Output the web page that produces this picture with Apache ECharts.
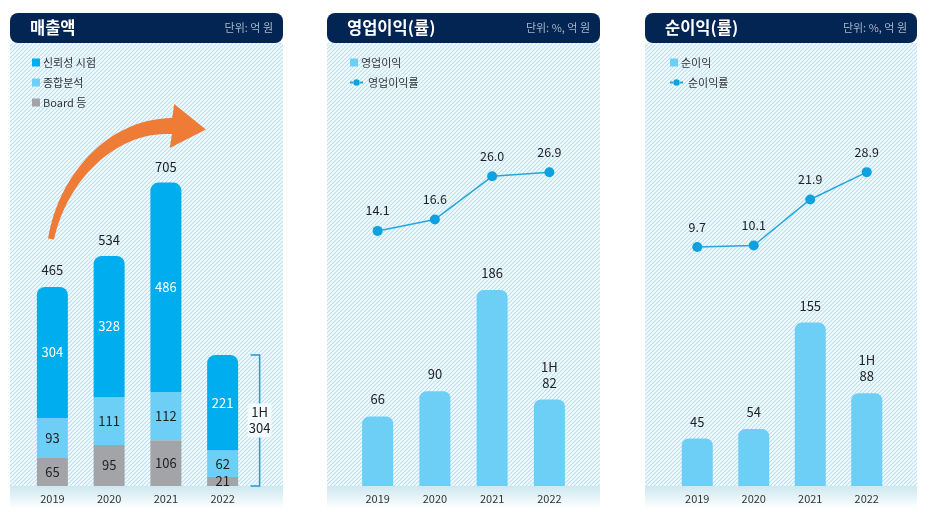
<!DOCTYPE html>
<html><head><meta charset="utf-8">
<script src="https://cdn.jsdelivr.net/npm/echarts@6/dist/echarts.min.js"></script>
<style>html,body{margin:0;padding:0;background:#fff}#c{width:934px;height:521px}</style>
</head><body><div id="c"></div>
<script>
// ---- data ----
const categories = ['2019', '2020', '2021', '2022'];
const salesReliability = [304, 328, 486, 221];
const salesAnalysis = [93, 111, 112, 62];
const salesBoard = [65, 95, 106, 21];
const salesTotal = [465, 534, 705, 304];
const periodTag = ['', '', '', '1H'];
const opProfit = [66, 90, 186, 82];
const opMargin = [14.1, 16.6, 26.0, 26.9];
const netProfit = [45, 54, 155, 88];
const netMargin = [9.7, 10.1, 21.9, 28.9];

const FONT = '"Noto Sans CJK KR", "Noto Sans", sans-serif';
const C_BLUE = '#00aeef', C_LIGHT = '#6dcff6', C_GRAY = '#a3a4a7';
const C_LINE = '#27a6dc', C_DOT = '#0ea1df';

function makeHatch() {
  const s = 4;
  const c = document.createElement('canvas'); c.width = s; c.height = s;
  const g = c.getContext('2d');
  g.fillStyle = '#f4fbfe'; g.fillRect(0, 0, s, s);
  g.strokeStyle = '#b9dff0'; g.lineWidth = 1.1;
  for (const k of [-s, 0, s]) { g.beginPath(); g.moveTo(k, s); g.lineTo(k + s, 0); g.stroke(); }
  return c;
}
const hatch = { image: makeHatch(), repeat: 'repeat' };

const panels = [
  { x: 10, w: 273, title: '매출액', unit: '단위: 억 원' },
  { x: 327, w: 273, title: '영업이익(률)', unit: '단위: %, 억 원' },
  { x: 645, w: 272, title: '순이익(률)', unit: '단위: %, 억 원' }
];

const gEls = [];
panels.forEach(p => {
  gEls.push({ type: 'rect', z: -1, silent: true, shape: { x: p.x, y: 43, width: p.w, height: 443 }, style: { fill: hatch } });
  gEls.push({ type: 'rect', z: -1, silent: true, shape: { x: p.x, y: 486, width: p.w, height: 23 },
    style: { fill: new echarts.graphic.LinearGradient(0, 0, 0, 1, [{ offset: 0, color: '#cde8ef' }, { offset: 1, color: '#ffffff' }]) } });
  gEls.push({ type: 'rect', z: 0, silent: true, shape: { x: p.x, y: 13, width: p.w, height: 30, r: 8 }, style: { fill: '#022553' } });
  gEls.push({ type: 'text', z: 1, silent: true, x: p.x + 20, y: 28, style: { text: p.title, fill: '#fff', font: 'bold 16.5px ' + FONT, verticalAlign: 'middle', align: 'left' } });
  gEls.push({ type: 'text', z: 1, silent: true, x: p.x + p.w - 10, y: 28, style: { text: p.unit, fill: '#a9b6c9', font: '11px ' + FONT, verticalAlign: 'middle', align: 'right' } });
});

// orange growth arrow (decoration)
(function () {
  const P = [[51, 239], [62, 180], [110, 125], [172, 126]];
  const N = 30, upper = [], lower = [];
  for (let i = 0; i <= N; i++) {
    const t = i / N, u = 1 - t;
    const x = u*u*u*P[0][0] + 3*u*u*t*P[1][0] + 3*u*t*t*P[2][0] + t*t*t*P[3][0];
    const y = u*u*u*P[0][1] + 3*u*u*t*P[1][1] + 3*u*t*t*P[2][1] + t*t*t*P[3][1];
    const dx = 3*u*u*(P[1][0]-P[0][0]) + 6*u*t*(P[2][0]-P[1][0]) + 3*t*t*(P[3][0]-P[2][0]);
    const dy = 3*u*u*(P[1][1]-P[0][1]) + 6*u*t*(P[2][1]-P[1][1]) + 3*t*t*(P[3][1]-P[2][1]);
    const L = Math.hypot(dx, dy), nx = -dy / L, ny = dx / L;
    const w = 3 + 5 * t;
    upper.push([x - nx * w, y - ny * w]); lower.push([x + nx * w, y + ny * w]);
  }
  const d = [0.995, 0.1], n = [-0.1, 0.995], b = P[3];
  const head = [[b[0] - n[0]*22, b[1] - n[1]*22], [b[0] + d[0]*34, b[1] + d[1]*34], [b[0] + n[0]*22, b[1] + n[1]*22]];
  const pts = upper.concat(head, lower.reverse());
  gEls.push({ type: 'polygon', z: 10, silent: true, shape: { points: pts }, style: { fill: '#ee7c36' } });
})();

const xAxisBase = {
  type: 'category', data: categories,
  axisLine: { show: false }, axisTick: { show: false }, splitLine: { show: false },
  axisLabel: { color: '#333', fontSize: 11, fontFamily: FONT, margin: 7 }
};
const yBase = { type: 'value', show: false, splitLine: { show: false } };

const lblDark = { color: '#222', fontSize: 13, fontFamily: FONT };
const tagFmt = p => (periodTag[p.dataIndex] ? periodTag[p.dataIndex] + '\n' : '') + p.value;
const legText = { color: '#333', fontSize: 11, lineHeight: 13, fontFamily: FONT };

const option = {
  animation: false,
  backgroundColor: '#fff',
  textStyle: { fontFamily: FONT },
  graphic: { elements: gEls },
  grid: [
    { left: 24, width: 227, top: 96, bottom: 35 },
    { left: 349, width: 229, top: 96, bottom: 35 },
    { left: 669, width: 226, top: 96, bottom: 35 }
  ],
  xAxis: [
    Object.assign({ gridIndex: 0 }, xAxisBase),
    Object.assign({ gridIndex: 1 }, xAxisBase),
    Object.assign({ gridIndex: 2 }, xAxisBase)
  ],
  yAxis: [
    Object.assign({ gridIndex: 0, min: 0, max: 905 }, yBase),
    Object.assign({ gridIndex: 1, min: 0, max: 370 }, yBase),
    Object.assign({ gridIndex: 1, min: -41.5, max: 43.5 }, yBase),
    Object.assign({ gridIndex: 2, min: 0, max: 370 }, yBase),
    Object.assign({ gridIndex: 2, min: -51.5, max: 48.4 }, yBase)
  ],
  legend: [
    { left: 27, top: 51, orient: 'vertical', itemWidth: 8, itemHeight: 8, itemGap: 7, icon: 'rect',
      textStyle: Object.assign({ padding: [0, 0, 0, -2] }, legText),
      data: ['신뢰성 시험', '종합분석', 'Board 등'] },
    { left: 345, top: 51, itemWidth: 8, itemHeight: 8, icon: 'rect',
      textStyle: Object.assign({ padding: [0, 0, 0, -2] }, legText), data: ['영업이익'] },
    { left: 344, top: 71, itemWidth: 13, itemHeight: 8, lineStyle: { type: [3, 2] },
      textStyle: legText, data: ['영업이익률'] },
    { left: 665, top: 51, itemWidth: 8, itemHeight: 8, icon: 'rect',
      textStyle: Object.assign({ padding: [0, 0, 0, -2] }, legText), data: ['순이익'] },
    { left: 664, top: 71, itemWidth: 13, itemHeight: 8, lineStyle: { type: [3, 2] },
      textStyle: legText, data: ['순이익률'] }
  ],
  series: [
    { name: 'Board 등', type: 'bar', stack: 'sales', xAxisIndex: 0, yAxisIndex: 0, barWidth: 31, barGap: '-100%',
      data: salesBoard, itemStyle: { color: C_GRAY },
      label: Object.assign({ show: true, position: 'inside' }, lblDark) },
    { name: '종합분석', type: 'bar', stack: 'sales', xAxisIndex: 0, yAxisIndex: 0, barWidth: 31, barGap: '-100%',
      data: salesAnalysis, itemStyle: { color: C_LIGHT },
      label: Object.assign({ show: true, position: 'inside' }, lblDark) },
    { name: '신뢰성 시험', type: 'bar', stack: 'sales', xAxisIndex: 0, yAxisIndex: 0, barWidth: 31, barGap: '-100%',
      data: salesReliability, itemStyle: { color: C_BLUE, borderRadius: [8, 8, 0, 0] },
      label: { show: true, position: 'inside', color: '#fff', fontSize: 13, fontFamily: FONT } },
    { name: '합계', type: 'bar', xAxisIndex: 0, yAxisIndex: 0, barWidth: 31, barGap: '-100%', z: 1, silent: true,
      data: salesTotal.map((v, i) => periodTag[i] ? { value: v, label: { show: false } } : v),
      itemStyle: { color: 'rgba(0,0,0,0)' },
      label: Object.assign({ show: true, position: 'top', distance: 9 }, lblDark) },
    { name: '반기', type: 'custom', xAxisIndex: 0, yAxisIndex: 0, silent: true,
      data: salesTotal.map((v, i) => [i, v]).filter((d, i) => periodTag[i]),
      renderItem: function (params, api) {
        const idx = api.value(0), v = api.value(1);
        const p0 = api.coord([idx, 0]), p1 = api.coord([idx, v]);
        const x = p0[0] + 37;
        return { type: 'group', children: [
          { type: 'polyline', shape: { points: [[x - 9, p1[1]], [x, p1[1]], [x, p0[1]], [x - 9, p0[1]]] },
            style: { stroke: '#1f9bd7', lineWidth: 1.5, fill: null } },
          { type: 'text', x: x, y: (p0[1] + p1[1]) / 2,
            style: { text: periodTag[idx] + '\n' + v, align: 'center', verticalAlign: 'middle', fill: '#222',
              fontSize: 13, fontFamily: FONT, lineHeight: 16, backgroundColor: '#f4fbfe', padding: [1, 1] } }
        ] };
      } },

    { name: '영업이익', type: 'bar', xAxisIndex: 1, yAxisIndex: 1, barWidth: 31, data: opProfit,
      itemStyle: { color: C_LIGHT, borderRadius: [7, 7, 0, 0] },
      label: Object.assign({ show: true, position: 'top', distance: 9, lineHeight: 16, formatter: tagFmt }, lblDark) },
    { name: '영업이익률', type: 'line', xAxisIndex: 1, yAxisIndex: 2, data: opMargin,
      symbol: 'circle', symbolSize: 10, itemStyle: { color: C_DOT }, lineStyle: { color: C_LINE, width: 1.5 },
      label: { show: true, position: 'top', distance: 9, color: '#222', fontSize: 12.5, fontFamily: FONT, formatter: p => p.value.toFixed(1) } },

    { name: '순이익', type: 'bar', xAxisIndex: 2, yAxisIndex: 3, barWidth: 31, data: netProfit,
      itemStyle: { color: C_LIGHT, borderRadius: [7, 7, 0, 0] },
      label: Object.assign({ show: true, position: 'top', distance: 9, lineHeight: 16, formatter: tagFmt }, lblDark) },
    { name: '순이익률', type: 'line', xAxisIndex: 2, yAxisIndex: 4, data: netMargin,
      symbol: 'circle', symbolSize: 10, itemStyle: { color: C_DOT }, lineStyle: { color: C_LINE, width: 1.5 },
      label: { show: true, position: 'top', distance: 9, color: '#222', fontSize: 12.5, fontFamily: FONT, formatter: p => p.value.toFixed(1) } }
  ]
};

const chart = echarts.init(document.getElementById('c'), null, { renderer: 'canvas' });
chart.setOption(option);
</script>
</body></html>
